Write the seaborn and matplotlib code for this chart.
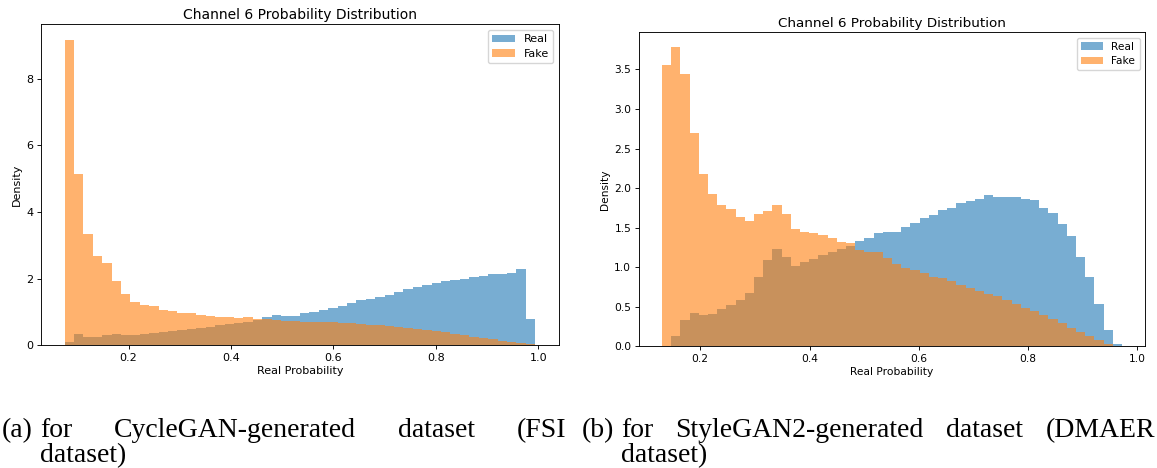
import numpy as np
import pandas as pd
import matplotlib
matplotlib.use("Agg")
import matplotlib.pyplot as plt
from matplotlib.patches import Patch
import seaborn as sns

# Per-bin densities (50 equal-width bins) of the channel-6 "real" probability
# FSI dataset (CycleGAN-generated fakes)
fsi_range = (0.075, 0.994)
fsi_real = [0.11, 0.33, 0.26, 0.24, 0.30, 0.33, 0.30, 0.30, 0.33, 0.37,
            0.41, 0.44, 0.45, 0.48, 0.51, 0.55, 0.60, 0.64, 0.67, 0.71,
            0.76, 0.84, 0.92, 0.89, 0.89, 0.96, 1.00, 1.06, 1.11, 1.18,
            1.26, 1.36, 1.39, 1.45, 1.51, 1.60, 1.68, 1.76, 1.81, 1.88,
            1.93, 1.96, 2.00, 2.04, 2.07, 2.13, 2.15, 2.17, 2.29, 0.80]
fsi_fake = [9.17, 5.15, 3.33, 2.69, 2.46, 1.94, 1.54, 1.30, 1.21, 1.17,
            1.06, 1.02, 0.97, 0.96, 0.90, 0.87, 0.85, 0.84, 0.83, 0.84,
            0.80, 0.79, 0.76, 0.74, 0.72, 0.71, 0.70, 0.69, 0.69, 0.68,
            0.66, 0.64, 0.62, 0.60, 0.58, 0.55, 0.53, 0.50, 0.46, 0.43,
            0.39, 0.35, 0.32, 0.26, 0.22, 0.18, 0.14, 0.11, 0.08, 0.03]

# DMAER dataset (StyleGAN2-generated fakes)
dmaer_range = (0.130, 0.972)
dmaer_real = [0.01, 0.13, 0.33, 0.425, 0.40, 0.41, 0.476, 0.52, 0.585, 0.68,
              0.87, 1.095, 1.234, 1.13, 1.02, 1.066, 1.10, 1.15, 1.19, 1.226,
              1.27, 1.33, 1.37, 1.43, 1.445, 1.45, 1.51, 1.56, 1.62, 1.66,
              1.72, 1.75, 1.81, 1.84, 1.86, 1.91, 1.89, 1.89, 1.89, 1.86,
              1.85, 1.75, 1.68, 1.55, 1.39, 1.13, 0.87, 0.535, 0.21, 0.025]
dmaer_fake = [3.555, 3.78, 3.445, 2.70, 2.18, 1.925, 1.78, 1.74, 1.63, 1.58,
              1.67, 1.71, 1.79, 1.67, 1.48, 1.44, 1.43, 1.41, 1.37, 1.32,
              1.30, 1.22, 1.19, 1.19, 1.12, 1.04, 0.99, 0.97, 0.93, 0.88,
              0.86, 0.83, 0.78, 0.74, 0.70, 0.66, 0.63, 0.58, 0.535, 0.49,
              0.45, 0.39, 0.35, 0.29, 0.23, 0.18, 0.135, 0.076, 0.03, 0.005]

series_labels = ["Real", "Fake"]
panel_title = "Channel 6 Probability Distribution"
x_label = "Real Probability"
y_label = "Density"

caption_a = ("(a)", ["for", "CycleGAN-generated", "dataset", "(FSI"], "dataset)")
caption_b = ("(b)", ["for", "StyleGAN2-generated", "dataset", "(DMAER"], "dataset)")

BLUE = "#1f77b4"
ORANGE = "#ff7f0e"
ALPHA = 0.6

plt.rcParams.update({
    "axes.linewidth": 0.65,
    "xtick.major.width": 0.65,
    "ytick.major.width": 0.65,
    "xtick.major.size": 2.8,
    "ytick.major.size": 2.8,
    "xtick.major.pad": 2.8,
    "ytick.major.pad": 2.8,
})

W, H = 1157, 468
fig = plt.figure(figsize=(W / 100, H / 100), dpi=100)


def px_axes(x0, y0, x1, y1):
    return fig.add_axes([x0 / W, 1 - y1 / H, (x1 - x0) / W, (y1 - y0) / H])


def draw_panel(ax, rng, real, fake, fs, title_fs):
    edges = np.linspace(rng[0], rng[1], len(real) + 1)
    centers = 0.5 * (edges[:-1] + edges[1:])
    for vals, color in ((real, BLUE), (fake, ORANGE)):
        df = pd.DataFrame({"prob": centers, "density": np.asarray(vals, float)})
        sns.histplot(data=df, x="prob", weights="density", bins=list(edges),
                     stat="count", color=color, alpha=ALPHA, linewidth=0, ax=ax)
    ax.set_title(panel_title, fontsize=title_fs, pad=4)
    ax.set_xlabel(x_label, fontsize=fs, labelpad=2)
    ax.set_ylabel(y_label, fontsize=fs, labelpad=3)
    ax.tick_params(labelsize=fs)
    handles = [Patch(facecolor=BLUE, alpha=ALPHA, label=series_labels[0]),
               Patch(facecolor=ORANGE, alpha=ALPHA, label=series_labels[1])]
    ax.legend(handles=handles, loc="upper right", fontsize=fs,
              handlelength=2.0, borderpad=0.4, labelspacing=0.4)


ax_a = px_axes(41, 24.3, 558.7, 345.3)
draw_panel(ax_a, fsi_range, fsi_real, fsi_fake, 8, 10)

ax_b = px_axes(639, 32.3, 1145, 346.3)
draw_panel(ax_b, dmaer_range, dmaer_real, dmaer_fake, 7.7, 9.7)

# Justified sub-captions set in a serif face
renderer = fig.canvas.get_renderer()
cap_font = dict(family="Liberation Serif", fontsize=20, va="baseline", ha="left")


def caption(parts, x_label_px, x_text_px, x_end_px, base1, base2):
    tag, words, tail = parts
    fig.text(x_label_px / W, 1 - base1 / H, tag, **cap_font)
    texts = [fig.text(0, 1 - base1 / H, w, **cap_font) for w in words]
    widths = [t.get_window_extent(renderer).width for t in texts]
    gap = (x_end_px - x_text_px - sum(widths)) / (len(words) - 1)
    x = x_text_px
    for t, w in zip(texts, widths):
        t.set_x(x / W)
        x += w + gap
    fig.text(x_text_px / W, 1 - base2 / H, tail, **cap_font)


caption(caption_a, 2, 40, 566, 437, 462)
caption(caption_b, 582, 621, 1155, 437, 462)

fig.savefig("out.png", dpi=100)
